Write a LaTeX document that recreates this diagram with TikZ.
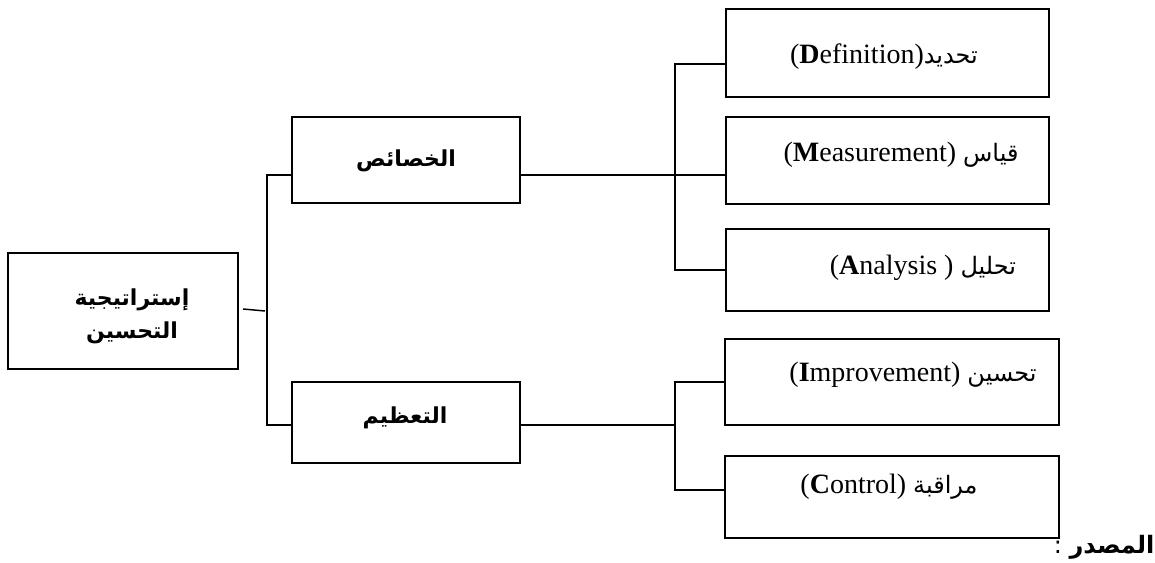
\documentclass[tikz,border=0pt]{standalone}
\usepackage{fontspec}
\setmainfont{Liberation Serif}
\newfontfamily\arabicfont[Script=Arabic]{DejaVu Sans}
\newcommand{\arsmall}{\arabicfont\fontsize{18}{22}\selectfont}
\TeXXeTstate=1
\begin{document}
\begin{tikzpicture}[x=0.75pt,y=-0.75pt,
  line width=1.1pt,
  boxnode/.style={draw,line width=1.1pt,rectangle,inner sep=0pt,outer sep=0pt},
  artitle/.style={font=\arabicfont\bfseries\fontsize{16.5}{23}\selectfont,align=center,inner sep=0pt},
  latlabel/.style={font=\fontsize{21}{25}\selectfont,inner sep=0pt}]
\useasboundingbox (0,0) rectangle (1155,563);
% boxes
\node[boxnode,minimum width=230*0.75pt,minimum height=116*0.75pt] (L) at (123,311) {};
\node[boxnode,minimum width=228*0.75pt,minimum height=86*0.75pt] (m1) at (406,160) {};
\node[boxnode,minimum width=228*0.75pt,minimum height=81*0.75pt] (m2) at (406,422.5) {};
\node[boxnode,minimum width=323*0.75pt,minimum height=88*0.75pt] (D) at (887.5,53) {};
\node[boxnode,minimum width=323*0.75pt,minimum height=87*0.75pt] (M) at (887.5,160.5) {};
\node[boxnode,minimum width=323*0.75pt,minimum height=82*0.75pt] (A) at (887.5,270) {};
\node[boxnode,minimum width=334*0.75pt,minimum height=86*0.75pt] (I) at (892,382) {};
\node[boxnode,minimum width=334*0.75pt,minimum height=82*0.75pt] (C) at (892,497) {};
% texts
\node[artitle] (tL) at (132,316) {\beginR إستراتيجية\endR\\[2pt]\beginR التحسين\endR};
\node[artitle] (tm1) at (406,161) {\beginR الخصائص\endR};
\node[artitle] (tm2) at (405,418) {\beginR التعظيم\endR};
\node[latlabel] (tD) at (884,57) {(\textbf{D}efinition){\arsmall\beginR تحديد\endR}};
\node[latlabel] (tM) at (901,155) {(\textbf{M}easurement) {\arsmall\beginR قياس\endR}};
\node[latlabel] (tA) at (923,268) {(\textbf{A}nalysis ) {\arsmall\beginR تحليل\endR}};
\node[latlabel] (tI) at (913,375) {(\textbf{I}mprovement) {\arsmall\beginR تحسين\endR}};
\node[latlabel] (tC) at (889,487) {(\textbf{C}ontrol) {\arsmall\beginR مراقبة\endR}};
\node[anchor=east,inner sep=0pt,font=\arabicfont\fontsize{18}{22}\selectfont] (src) at (1155,547) {\beginR\textbf{المصدر} :\endR};
% connectors
\coordinate (s1) at (243,309);
\coordinate (s2) at (265,311);
\draw (s1) -- (s2);
\coordinate (a1) at (267,175);
\coordinate (a2) at (267,425);
\draw (m1.west |- a1) -- (a1) -- (a2) -- (m2.west |- a2);
\coordinate (b1) at (675,64);
\coordinate (b2) at (675,270);
\draw (D.west |- b1) -- (b1) -- (b2) -- (A.west |- b2);
\draw (m1.east |- a1) -- (M.west |- a1);
\coordinate (c1) at (675,382);
\coordinate (c2) at (675,490);
\draw (I.west |- c1) -- (c1) -- (c2) -- (C.west |- c2);
\draw (m2.east |- a2) -- (c1 |- a2);
\end{tikzpicture}
\end{document}
